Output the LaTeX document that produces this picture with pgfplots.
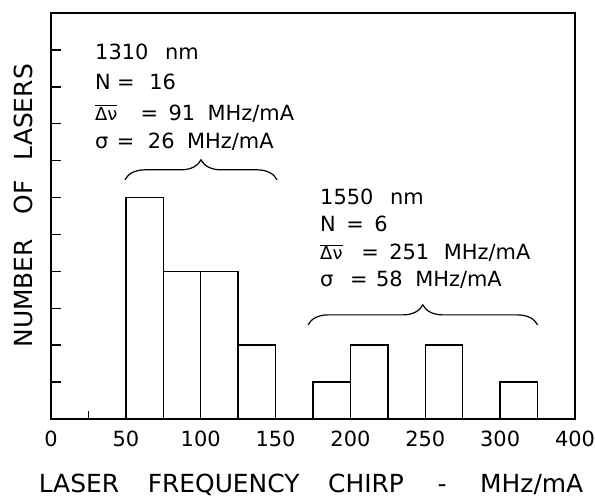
\documentclass[border=0pt]{standalone}
\usepackage{pgfplots}
\pgfplotsset{compat=1.18}
\usepackage{fontspec}
\setmainfont{DejaVu Sans}
\usetikzlibrary{decorations.pathreplacing}
\newcommand{\gap}[1]{\hspace{#1}}
\newcommand{\dnu}{{\fontsize{18}{20}\selectfont$\overline{\hbox{Δν}}$}}
\newcommand{\af}{\fontsize{21}{25}\selectfont}
\begin{document}
\begin{tikzpicture}
\begin{axis}[
  name=ax,
  scale only axis, width=524bp, height=406bp,
  xmin=0, xmax=350, ymin=0, ymax=11,
  axis line style={line width=1.4bp},
  xtick={0,50,...,350}, xticklabels={0,50,100,150,200,250,300,400},
  minor xtick={25},
  ytick={1,...,10}, yticklabels={},
  tick align=inside, xtick pos=bottom, ytick pos=left,
  major tick length=10bp, minor tick length=8bp,
  tick style={line width=1.4bp, black},
  ticklabel style={font=\fontsize{21}{25}\selectfont},
  xticklabel style={anchor=base, yshift=-27bp},
  xlabel={LASER\gap{1.15em}FREQUENCY\gap{1.15em}CHIRP\gap{1.35em}-\gap{1.35em}MHz/mA},
  ylabel={NUMBER\gap{1em}OF\gap{0.8em}LASERS},
  xlabel style={font=\fontsize{25}{30}\selectfont, at={(rel axis cs:0.5,0)}, anchor=base, xshift=-2bp, yshift=-73bp},
  ylabel style={font=\fontsize{25}{30}\selectfont, at={(rel axis cs:0,0.525)}, anchor=base, rotate=0, yshift=18bp},
  clip=false,
]
\addplot[ybar interval, fill=white, draw=black, line width=1.4bp] coordinates {
  (50,6) (75,4) (100,4) (125,2) (150,0) (175,1) (200,2) (225,0) (250,2) (275,0) (300,1) (325,0)};

\node[anchor=base west, inner sep=0pt, font=\af] at (axis cs:29.4,9.73) {1310\gap{0.8em}nm};
\node[anchor=base west, inner sep=0pt, font=\af] at (axis cs:29.4,8.92) {N\gap{0.3em}=\gap{0.7em}16};
\node[anchor=base west, inner sep=0pt, font=\af] at (axis cs:29.4,8.10) {\dnu\gap{1.1em}=\gap{0.5em}91\gap{0.6em}MHz/mA};
\node[anchor=base west, inner sep=0pt, font=\af] at (axis cs:29.4,7.34) {σ\gap{0.4em}=\gap{0.65em}26\gap{0.6em}MHz/mA};
\draw[line width=1.2bp, decorate, decoration={brace, amplitude=20bp}] (axis cs:49.4,6.48) -- (axis cs:151,6.48);

\node[anchor=base west, inner sep=0pt, font=\af] at (axis cs:179.7,5.80) {1550\gap{0.8em}nm};
\node[anchor=base west, inner sep=0pt, font=\af] at (axis cs:179.7,5.07) {N\gap{0.5em}=\gap{0.5em}6};
\node[anchor=base west, inner sep=0pt, font=\af] at (axis cs:179.7,4.31) {\dnu\gap{0.9em}=\gap{0.5em}251\gap{0.7em}MHz/mA};
\node[anchor=base west, inner sep=0pt, font=\af] at (axis cs:179.7,3.58) {σ\gap{0.8em}=\gap{0.4em}58\gap{0.6em}MHz/mA};
\draw[line width=1.2bp, decorate, decoration={brace, amplitude=20bp}] (axis cs:171.7,2.55) -- (axis cs:325,2.55);
\end{axis}
\pgfresetboundingbox
\path ([shift={(-51bp,-81bp)}]ax.south west) rectangle ([shift={(20bp,13bp)}]ax.north east);
\end{tikzpicture}
\end{document}
